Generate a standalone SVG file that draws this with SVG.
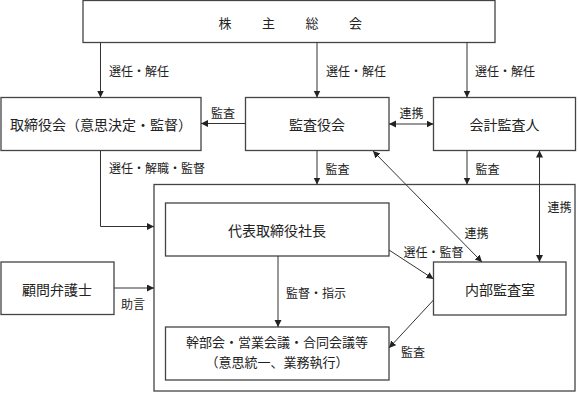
<svg xmlns="http://www.w3.org/2000/svg" width="578" height="393" viewBox="0 0 578 393">
<style>
.box{fill:#fff;stroke:#444;stroke-width:1.3}
.c{fill:none;stroke:#333;stroke-width:1}
.t{font-family:"Noto Sans CJK JP","Noto Sans CJK SC",sans-serif;font-size:14px;fill:#222;text-anchor:middle;dominant-baseline:central}
.m{font-size:13px}
.l{font-family:"Noto Sans CJK JP","Noto Sans CJK SC",sans-serif;font-size:12px;fill:#222;dominant-baseline:central}
</style>
<defs>
<marker id="ah" markerUnits="userSpaceOnUse" markerWidth="8" markerHeight="8" refX="7" refY="3.5" orient="auto-start-reverse">
<path d="M0,0 L7,3.5 L0,7 z" fill="#222"/>
</marker>
</defs>
<rect width="578" height="393" fill="#fff"/>
<g id="outer"><rect class="box" x="154" y="184.5" width="421" height="206.5"/></g>
<g id="shareholders"><rect class="box" x="83" y="0.5" width="412" height="42"/>
<text class="t" x="225 268.5 312 355.5" y="22" style="font-size:13px">株主総会</text></g>
<g id="board"><rect class="box" x="1" y="97.5" width="200" height="53"/>
<text class="t" x="101" y="124">取締役会（意思決定・監督）</text></g>
<g id="auditors"><rect class="box" x="245.5" y="97.5" width="143.5" height="53"/>
<text class="t" x="317" y="124">監査役会</text></g>
<g id="accountant"><rect class="box" x="433.5" y="97.5" width="142" height="53"/>
<text class="t" x="504.5" y="124">会計監査人</text></g>
<g id="president"><rect class="box" x="165.5" y="203" width="223.5" height="53"/>
<text class="t" x="277" y="229.5">代表取締役社長</text></g>
<g id="internal"><rect class="box" x="433.5" y="262" width="132.5" height="53"/>
<text class="t" x="500" y="288.5">内部監査室</text></g>
<g id="lawyer"><rect class="box" x="1" y="262" width="113" height="52.5"/>
<text class="t" x="57" y="288.5">顧問弁護士</text></g>
<g id="meetings"><rect class="box" x="165.5" y="327" width="223.5" height="53"/>
<text class="t m" x="277" y="341.5">幹部会・営業会議・合同会議等</text>
<text class="t m" x="277" y="361">（意思統一、業務執行）</text></g>
<g id="connectors">
<path class="c" d="M100.5,42.5 V97.5" marker-end="url(#ah)"/>
<path class="c" d="M317,42.5 V97.5" marker-end="url(#ah)"/>
<path class="c" d="M467,42.5 V97.5" marker-end="url(#ah)"/>
<path class="c" d="M245.5,123.5 H201" marker-end="url(#ah)"/>
<path class="c" d="M389,124 H433.5" marker-start="url(#ah)" marker-end="url(#ah)"/>
<path class="c" d="M317,150.5 V184.5" marker-end="url(#ah)"/>
<path class="c" d="M467,150.5 V184.5" marker-end="url(#ah)"/>
<path class="c" d="M539.5,150.5 V262" marker-start="url(#ah)" marker-end="url(#ah)"/>
<path class="c" d="M373,151 L482,262" marker-start="url(#ah)" marker-end="url(#ah)"/>
<path class="c" d="M100.5,150.5 V226.5 H154" marker-end="url(#ah)"/>
<path class="c" d="M114,288 H154" marker-end="url(#ah)"/>
<path class="c" d="M278,256 V327" marker-end="url(#ah)"/>
<path class="c" d="M389,250 L433.5,279" marker-end="url(#ah)"/>
<path class="c" d="M433.5,300 L389,348" marker-end="url(#ah)"/>
<text class="l" x="109" y="70.5">選任・解任</text>
<text class="l" x="326" y="70.5">選任・解任</text>
<text class="l" x="475" y="70.5">選任・解任</text>
<text class="l" x="211" y="112">監査</text>
<text class="l" x="399.5" y="112.5">連携</text>
<text class="l" x="325.5" y="168">監査</text>
<text class="l" x="475.5" y="168">監査</text>
<text class="l" x="109" y="167.5">選任・解職・監督</text>
<text class="l" x="547.5" y="206.5">連携</text>
<text class="l" x="464.5" y="232.5">連携</text>
<text class="l" x="403.5" y="251">選任・監督</text>
<text class="l" x="286" y="292">監督・指示</text>
<text class="l" x="121" y="303">助言</text>
<text class="l" x="401" y="351">監査</text>
</g>
</svg>
